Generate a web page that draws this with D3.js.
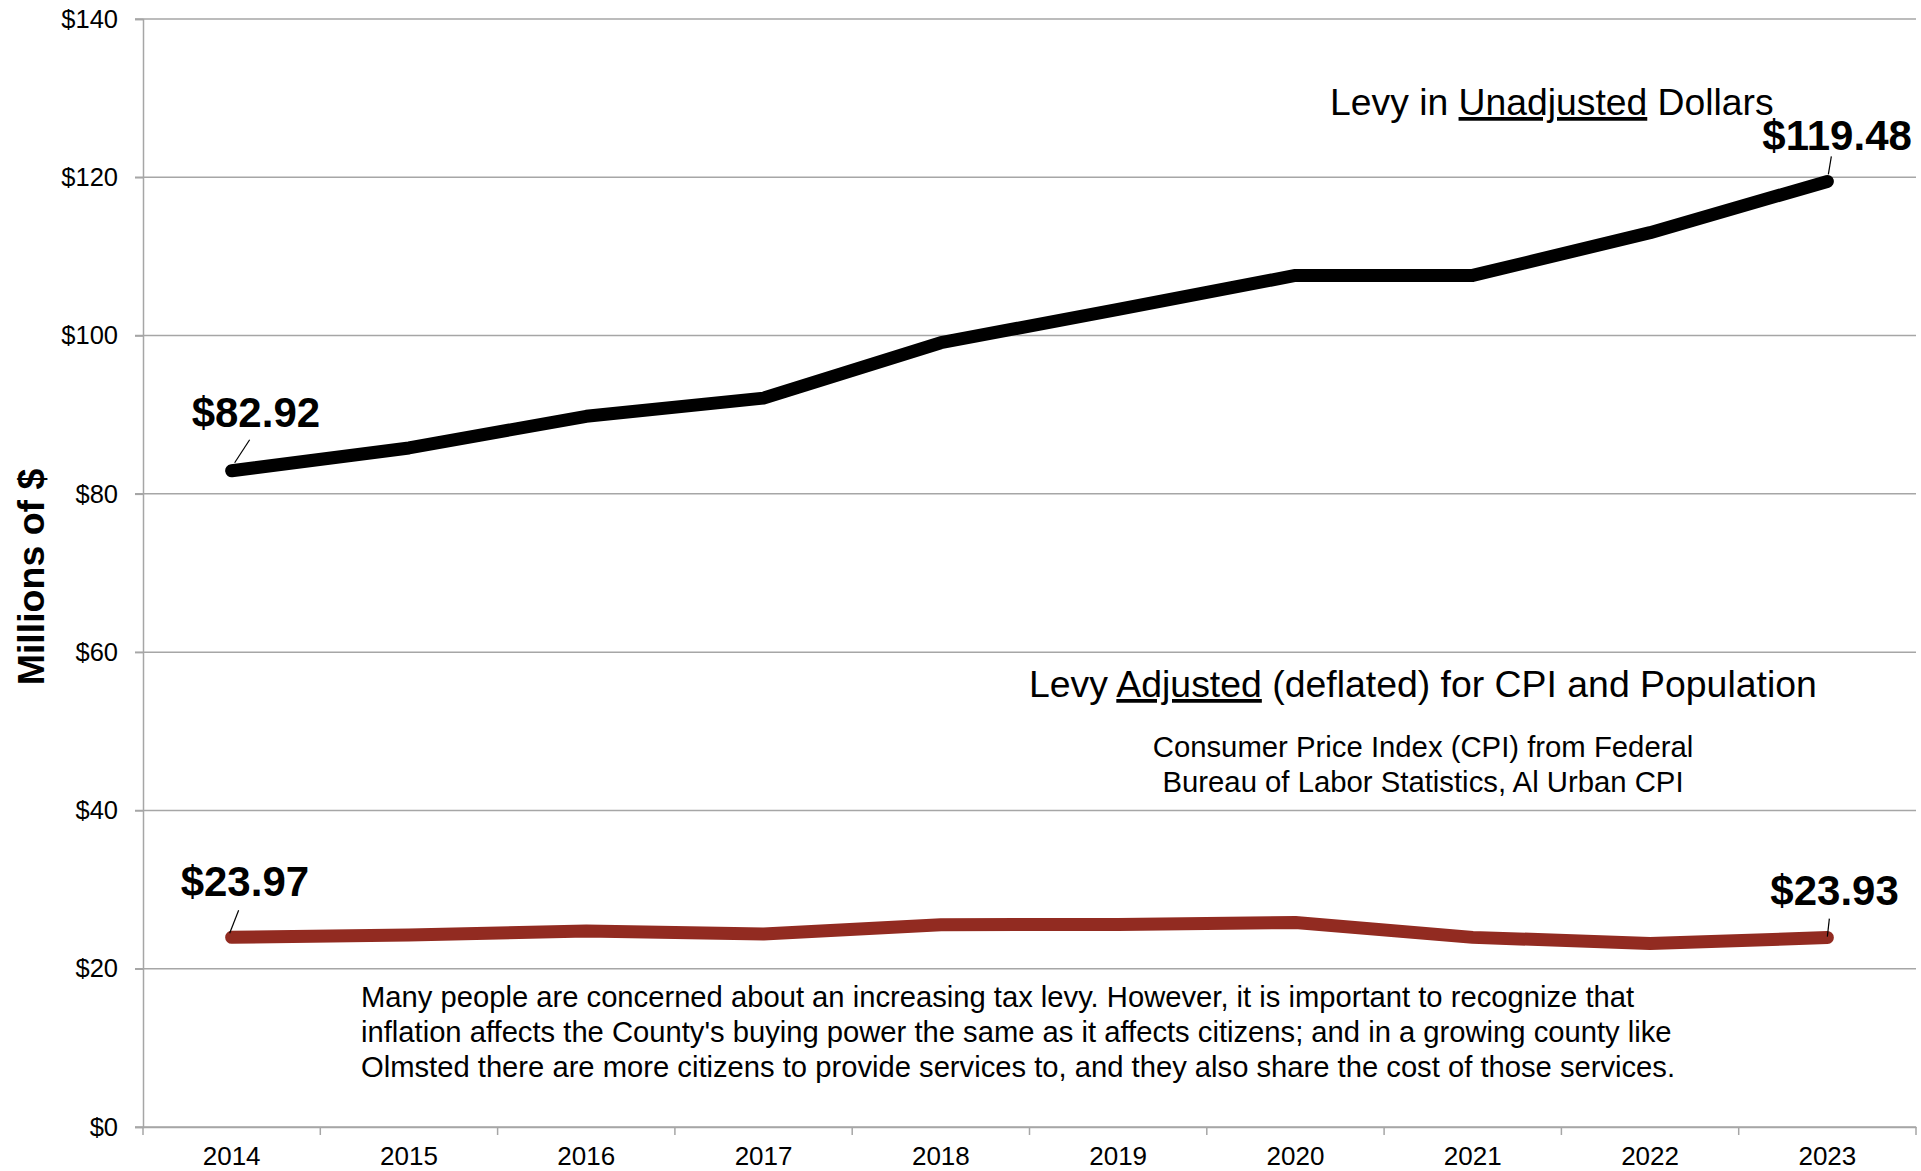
<!DOCTYPE html>
<html>
<head>
<meta charset="utf-8">
<script src="https://cdn.jsdelivr.net/npm/d3@7"></script>
<style>
  html, body { margin: 0; padding: 0; background: #fff; }
  svg { display: block; font-family: "Liberation Sans", Arial, sans-serif; }
</style>
</head>
<body>
<div id="chart"></div>
<script>
// levy, millions of dollars
const years = [2014, 2015, 2016, 2017, 2018, 2019, 2020, 2021, 2022, 2023];
const unadjusted = [82.92, 85.8, 89.8, 92.1, 99.1, 103.3, 107.6, 107.6, 113.0, 119.48];
const adjusted = [23.97, 24.26, 24.77, 24.4, 25.55, 25.6, 25.85, 23.96, 23.2, 23.93];
const yTicks = [0, 20, 40, 60, 80, 100, 120, 140];

const width = 1921;
const height = 1171;
const margin = { top: 19, right: 5, bottom: 44, left: 143 };

const svg = d3
  .select("#chart")
  .append("svg")
  .attr("width", width)
  .attr("height", height);

const x = d3
  .scaleBand()
  .domain(years)
  .range([margin.left, width - margin.right])
  .padding(0);

const y = d3
  .scaleLinear()
  .domain([0, 140])
  .range([height - margin.bottom, margin.top]);

const xc = (d) => x(d) + x.bandwidth() / 2;

// gridlines
svg
  .append("g")
  .selectAll("line")
  .data(yTicks)
  .enter()
  .append("line")
  .attr("x1", margin.left - 8)
  .attr("x2", width - margin.right)
  .attr("y1", (d) => y(d))
  .attr("y2", (d) => y(d))
  .attr("stroke", "#a6a6a6")
  .attr("stroke-width", 1.5);

// y axis
const yAxis = svg
  .append("g")
  .attr("transform", `translate(${margin.left},0)`)
  .call(
    d3
      .axisLeft(y)
      .tickValues(yTicks)
      .tickSize(8)
      .tickPadding(17)
      .tickFormat((d) => `$${d}`)
  );
yAxis.select(".domain").attr("stroke", "#a6a6a6").attr("stroke-width", 1.5);
yAxis.selectAll(".tick line").attr("stroke", "#a6a6a6").attr("stroke-width", 1.5);
yAxis
  .selectAll("text")
  .attr("font-size", 25.5)
  .attr("font-family", "Liberation Sans, Arial, sans-serif")
  .attr("fill", "#000");

// x axis labels
const xAxis = svg
  .append("g")
  .attr("transform", `translate(0,${y(0)})`)
  .call(d3.axisBottom(x).tickSize(0).tickPadding(20));
xAxis.select(".domain").attr("stroke", "#a6a6a6").attr("stroke-width", 1.5);
xAxis
  .selectAll("text")
  .attr("font-size", 26)
  .attr("font-family", "Liberation Sans, Arial, sans-serif")
  .attr("fill", "#000");

// x ticks at category boundaries
const boundaries = years.map((d) => x(d)).concat([x(years[years.length - 1]) + x.bandwidth()]);
svg
  .append("g")
  .selectAll("line")
  .data(boundaries)
  .enter()
  .append("line")
  .attr("x1", (d) => d)
  .attr("x2", (d) => d)
  .attr("y1", y(0))
  .attr("y2", y(0) + 8)
  .attr("stroke", "#a6a6a6")
  .attr("stroke-width", 1.5);

// y axis title
svg
  .append("text")
  .text("Millions of $")
  .attr("transform", `translate(44, ${(y(0) + y(140)) / 2 + 4}) rotate(-90)`)
  .attr("text-anchor", "middle")
  .attr("font-size", 37.5)
  .attr("font-weight", "bold");

// lines
const line = (values) =>
  d3
    .line()
    .x((d, i) => xc(years[i]))
    .y((d) => y(d))(values);

svg
  .append("path")
  .attr("d", line(adjusted))
  .attr("fill", "none")
  .attr("stroke", "#922b21")
  .attr("stroke-width", 13)
  .attr("stroke-linejoin", "round")
  .attr("stroke-linecap", "round");

svg
  .append("path")
  .attr("d", line(unadjusted))
  .attr("fill", "none")
  .attr("stroke", "#000")
  .attr("stroke-width", 13)
  .attr("stroke-linejoin", "round")
  .attr("stroke-linecap", "round");

// value labels with leader lines
const valueLabels = [
  { year: 2014, value: unadjusted[0], dx: -40, dy: -44, l: [18, -31, 3, -8] },
  { year: 2023, value: unadjusted[9], dx: -65, dy: -31, l: [4, -25, 1, -7] },
  { year: 2014, value: adjusted[0], dx: -51, dy: -41, l: [7, -27, -2, -4] },
  { year: 2023, value: adjusted[9], dx: -57, dy: -33, l: [2, -19, 0, -1] },
];

const labels = svg.append("g").selectAll("g").data(valueLabels).enter().append("g");
labels
  .append("text")
  .text((d) => `$${d.value.toFixed(2)}`)
  .attr("x", (d) => xc(d.year) + d.dx)
  .attr("y", (d) => y(d.value) + d.dy)
  .attr("font-size", 42)
  .attr("font-weight", "bold");
labels
  .append("line")
  .attr("x1", (d) => xc(d.year) + d.l[0])
  .attr("y1", (d) => y(d.value) + d.l[1])
  .attr("x2", (d) => xc(d.year) + d.l[2])
  .attr("y2", (d) => y(d.value) + d.l[3])
  .attr("stroke", "#000")
  .attr("stroke-width", 1.2);

// series annotations
const t1 = svg.append("text").attr("x", 1330).attr("y", 115).attr("font-size", 37.3);
t1.append("tspan").text("Levy in ");
t1.append("tspan").text("Unadjusted").style("text-decoration", "underline");
t1.append("tspan").text(" Dollars");

const t2 = svg.append("text").attr("x", 1029).attr("y", 697).attr("font-size", 37.4);
t2.append("tspan").text("Levy ");
t2.append("tspan").text("Adjusted").style("text-decoration", "underline");
t2.append("tspan").text(" (deflated) for CPI and Population");

const cpiNote = [
  "Consumer Price Index (CPI) from Federal",
  "Bureau of Labor Statistics, Al Urban CPI",
];
svg
  .append("g")
  .selectAll("text")
  .data(cpiNote)
  .enter()
  .append("text")
  .text((d) => d)
  .attr("x", 1423)
  .attr("y", (d, i) => 757 + i * 35)
  .attr("text-anchor", "middle")
  .attr("font-size", 29.3);

const paragraph = [
  "Many people are concerned about an increasing tax levy. However, it is important to recognize that",
  "inflation affects the County's buying power the same as it affects citizens; and in a growing county like",
  "Olmsted there are more citizens to provide services to, and they also share the cost of those services.",
];
svg
  .append("g")
  .selectAll("text")
  .data(paragraph)
  .enter()
  .append("text")
  .text((d) => d)
  .attr("x", 361)
  .attr("y", (d, i) => 1007 + i * 35)
  .attr("font-size", 29.2);
</script>
</body>
</html>
